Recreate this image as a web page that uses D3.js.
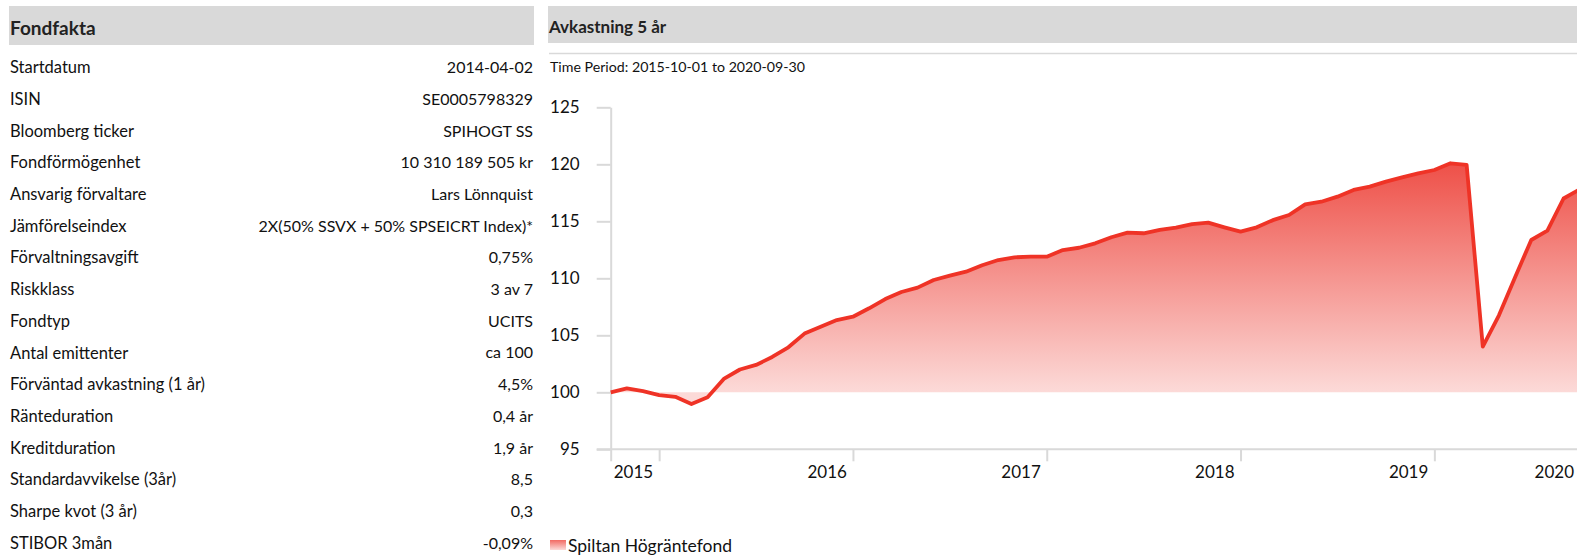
<!DOCTYPE html>
<html>
<head>
<meta charset="utf-8">
<script src="https://cdn.jsdelivr.net/npm/d3@7"></script>
<style>
    body { margin: 0; background: #fff; }
    svg { display: block; font-family: Lato, 'Open Sans', sans-serif; }
</style>
</head>
<body>
<div class="page"></div>
<script>
const factLabels = ['Startdatum', 'ISIN', 'Bloomberg ticker', 'Fondförmögenhet', 'Ansvarig förvaltare',
    'Jämförelseindex', 'Förvaltningsavgift', 'Riskklass', 'Fondtyp', 'Antal emittenter',
    'Förväntad avkastning (1 år)', 'Ränteduration', 'Kreditduration', 'Standardavvikelse (3år)',
    'Sharpe kvot (3 år)', 'STIBOR 3mån']
const factValues = ['2014-04-02', 'SE0005798329', 'SPIHOGT SS', '10 310 189 505 kr', 'Lars Lönnquist',
    '2X(50% SSVX + 50% SPSEICRT Index)*', '0,75%', '3 av 7', 'UCITS', 'ca 100',
    '4,5%', '0,4 år', '1,9 år', '8,5', '0,3', '-0,09%']

// monthly index values, 2015-09-30 .. 2020-09-30
const fundValues = [
    100.0, 100.35, 100.1, 99.76, 99.6, 98.97, 99.56, 101.17, 102.0, 102.4, 103.1, 103.95,
    105.15, 105.76, 106.34, 106.63, 107.37, 108.18, 108.8, 109.18, 109.85, 110.23, 110.58, 111.15,
    111.6, 111.84, 111.9, 111.9, 112.48, 112.68, 113.07, 113.6, 114.0, 113.95, 114.24, 114.45,
    114.76, 114.88, 114.47, 114.09, 114.47, 115.1, 115.55, 116.49, 116.72, 117.16, 117.75, 118.04,
    118.48, 118.86, 119.21, 119.5, 120.09, 119.94, 104.0, 106.75, 110.1, 113.36, 114.18, 117.0,
    117.8
]
const yearLabels = ['2015', '2016', '2017', '2018', '2019', '2020']
const yearEndIndex = [3, 15, 27, 39, 51, 63]
const yTicks = [95, 100, 105, 110, 115, 120, 125]
const seriesName = 'Spiltan Högräntefond'
const periodText = 'Time Period: 2015-10-01 to 2020-09-30'

const width = 1577, height = 555
const grey = '#d9d9d9', red = '#ef3326'

const svg = d3.select('.page').append('svg')
    .attr('width', width)
    .attr('height', height)

const defs = svg.append('defs')

// ---- left panel: fund facts ----
svg.append('rect')
    .attr('x', 9).attr('y', 6)
    .attr('width', 525).attr('height', 39)
    .attr('fill', grey)

svg.append('text')
    .attr('x', 10).attr('y', 28.5)
    .attr('dy', '0.35em')
    .attr('font-size', 19).attr('font-weight', 700)
    .attr('fill', '#222')
    .text('Fondfakta')

const rowY = d3.scalePoint()
    .domain(factLabels)
    .range([67.5, 543])

const rows = svg.append('g').attr('class', 'facts')
    .selectAll('g')
    .data(factLabels.map((d, i) => ({ label: d, value: factValues[i] })))
    .join('g')
    .attr('transform', d => `translate(0,${rowY(d.label)})`)

rows.append('text')
    .attr('x', 10)
    .attr('dy', '0.35em')
    .attr('font-size', 16.5)
    .attr('fill', '#111')
    .text(d => d.label)

rows.append('text')
    .attr('x', 533)
    .attr('dy', '0.35em')
    .attr('text-anchor', 'end')
    .attr('font-size', 16)
    .attr('fill', '#111')
    .text(d => d.value)

// ---- right panel: performance chart ----
svg.append('rect')
    .attr('x', 548).attr('y', 6)
    .attr('width', width - 548).attr('height', 37)
    .attr('fill', grey)

svg.append('text')
    .attr('x', 549).attr('y', 27.5)
    .attr('dy', '0.35em')
    .attr('font-size', 17).attr('font-weight', 700)
    .attr('fill', '#222')
    .text('Avkastning 5 år')

svg.append('line')
    .attr('x1', 549).attr('x2', width)
    .attr('y1', 53.5).attr('y2', 53.5)
    .attr('stroke', grey).attr('stroke-width', 1.5)

svg.append('text')
    .attr('x', 550).attr('y', 67)
    .attr('dy', '0.35em')
    .attr('font-size', 14.2)
    .attr('fill', '#111')
    .text(periodText)

const step = 16.15
const x = d3.scaleLinear()
    .domain([0, fundValues.length - 1])
    .range([610.7, 610.7 + step * (fundValues.length - 1)])

const y = d3.scaleLinear()
    .domain([95, 125])
    .range([449.3, 107.3])

const grad = defs.append('linearGradient')
    .attr('id', 'areaGrad')
    .attr('gradientUnits', 'userSpaceOnUse')
    .attr('x1', 0).attr('x2', 0)
    .attr('y1', y(120.1)).attr('y2', y(100))
grad.append('stop').attr('offset', 0).attr('stop-color', '#ee5048')
grad.append('stop').attr('offset', 1).attr('stop-color', '#fcdad8')

const legendGrad = defs.append('linearGradient')
    .attr('id', 'legendGrad')
    .attr('x1', 0).attr('x2', 0).attr('y1', 0).attr('y2', 1)
legendGrad.append('stop').attr('offset', 0).attr('stop-color', '#f26a63')
legendGrad.append('stop').attr('offset', 1).attr('stop-color', '#fcdad8')

const plot = svg.append('g').attr('class', 'plot')

const area = d3.area()
    .x((d, i) => x(i))
    .y0(y(100))
    .y1(d => y(d))

const line = d3.line()
    .x((d, i) => x(i))
    .y(d => y(d))

plot.append('path')
    .datum(fundValues)
    .attr('d', area)
    .attr('fill', 'url(#areaGrad)')

// x axis line, extended to the left like the y tick marks
plot.append('line')
    .attr('x1', x(0) - 14).attr('x2', width)
    .attr('y1', y(95)).attr('y2', y(95))
    .attr('stroke', grey).attr('stroke-width', 2)

const yAxis = d3.axisLeft(y)
    .tickValues(yTicks)
    .tickSize(14)
    .tickSizeOuter(0)
    .tickPadding(17)

plot.append('g')
    .attr('class', 'y axis')
    .attr('transform', `translate(${x(0)},0)`)
    .call(yAxis)
    .call(g => g.select('.domain').attr('stroke', grey).attr('stroke-width', 2))
    .call(g => g.selectAll('.tick line').attr('stroke', grey).attr('stroke-width', 2))
    .call(g => g.selectAll('.tick text')
        .attr('font-size', 17)
        .attr('font-family', 'Lato, sans-serif')
        .attr('fill', '#111'))

const xAxis = d3.axisBottom(x)
    .tickValues([0].concat(yearEndIndex.filter(i => i < fundValues.length)))
    .tickSize(12)
    .tickSizeOuter(0)
    .tickFormat('')

plot.append('g')
    .attr('class', 'x axis')
    .attr('transform', `translate(0,${y(95)})`)
    .call(xAxis)
    .call(g => g.select('.domain').remove())
    .call(g => g.selectAll('.tick line').attr('stroke', grey).attr('stroke-width', 2))

plot.selectAll('.year-label')
    .data(yearLabels)
    .join('text')
    .attr('class', 'year-label')
    .attr('x', (d, i) => Math.min(x(yearEndIndex[i]) - 6, width - 3))
    .attr('y', 472.5)
    .attr('dy', '0.35em')
    .attr('text-anchor', 'end')
    .attr('font-size', 17)
    .attr('fill', '#111')
    .text(d => d)

plot.append('path')
    .datum(fundValues)
    .attr('d', line)
    .attr('fill', 'none')
    .attr('stroke', red)
    .attr('stroke-width', 3.8)
    .attr('stroke-linejoin', 'round')

// legend
const legend = svg.append('g').attr('transform', 'translate(550,540)')
legend.append('rect')
    .attr('width', 16).attr('height', 10)
    .attr('fill', 'url(#legendGrad)')
legend.append('text')
    .attr('x', 18).attr('y', 6)
    .attr('dy', '0.35em')
    .attr('font-size', 17.5)
    .attr('fill', '#111')
    .text(seriesName)
</script>
</body>
</html>
